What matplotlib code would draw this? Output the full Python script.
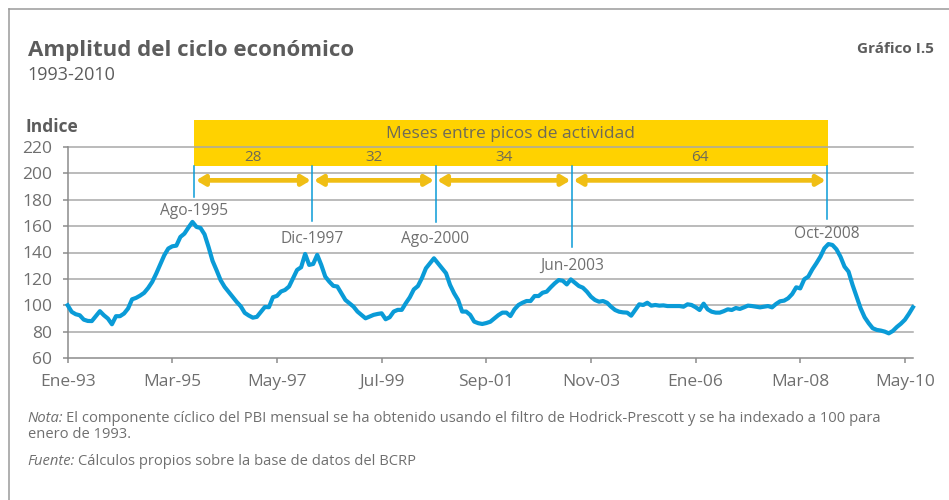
import matplotlib
matplotlib.use('Agg')
import matplotlib.pyplot as plt
from matplotlib.patches import Rectangle, FancyArrowPatch
from matplotlib.lines import Line2D
import numpy as np

plt.rcParams['font.family'] = ['Open Sans', 'DejaVu Sans']

# indice mensual, ene-1993 a jul-2010
indice = [
    100, 95, 93.2, 92.4, 89.1, 88.1, 88, 91.7, 95.5, 92.4,
    89.9, 85.6, 91.7, 91.7, 93.7, 97.5, 104.5, 105.6, 107.3, 109.4,
    113.1, 117.7, 124, 131, 137.9, 143, 144.7, 145.2, 151.8, 154.3,
    158.9, 163.2, 159.4, 158.6, 153.8, 144.2, 133.6, 126.5, 119, 113.9,
    110.1, 106.3, 102.5, 99.2, 94.2, 92.2, 90.6, 91.2, 95, 98.7,
    98.5, 106.1, 107.1, 110.4, 111.6, 114.2, 120.5, 126.8, 128.8, 138.9,
    130.6, 131.3, 138.2, 130.6, 121.7, 117.9, 114.7, 114.2, 109.1, 104,
    101.5, 99, 95.2, 92.7, 90.1, 91.4, 92.7, 93.4, 93.9, 89.4,
    90.9, 95.2, 96.5, 96.5, 101.5, 106, 112, 114.5, 120.5, 128,
    131.8, 135.6, 131.8, 128.1, 124.3, 115.4, 109.1, 104, 95.2, 95.2,
    92.7, 87.6, 86.4, 85.8, 86.5, 87.5, 90, 92.5, 94.4, 94.4,
    91.8, 96.9, 100.2, 101.9, 103.2, 103.2, 107, 107, 109.5, 110.3,
    113.6, 116.6, 119.1, 118.6, 115.8, 119.6, 117.1, 114.6, 113.3, 110.3,
    106.5, 104, 102.7, 103.2, 101.9, 98.9, 96.4, 95.1, 94.6, 94.4,
    92.1, 96.4, 100.7, 100.2, 101.9, 99.7, 100.2, 99.7, 99.9, 99.4,
    99.4, 99.4, 99.4, 98.9, 100.7, 100.2, 98.5, 96.4, 101.2, 96.9,
    95.1, 94.4, 94.4, 95.5, 96.9, 96.4, 97.9, 97.2, 98.4, 99.7,
    99.4, 98.9, 98.4, 98.9, 99.4, 98.4, 101, 103, 103.5, 105.3,
    108.5, 113.6, 112.8, 119.7, 121.7, 127.2, 131.8, 136.8, 143.2, 146.4,
    145.7, 142.4, 136.8, 129.3, 125.5, 115.4, 106.5, 97.7, 90.9, 86.4,
    82.6, 81.3, 80.8, 80, 78.7, 80.5, 83.5, 86, 89, 93.5,
    98.5,
]
meses = np.arange(len(indice))

tick_labels = ['Ene-93', 'Mar-95', 'May-97', 'Jul-99', 'Sep-01',
               'Nov-03', 'Ene-06', 'Mar-08', 'May-10']
tick_pos = np.arange(len(tick_labels)) * 26

picos = ['Ago-1995', 'Dic-1997', 'Ago-2000', 'Jun-2003', 'Oct-2008']
picos_x = [31.5, 60.8, 91.4, 125.3, 188.7]
picos_linea_min = [182, 163.7, 163, 144, 165.5]
picos_texto_y = [171.7, 150, 150, 130, 153.8]
intervalos = ['28', '32', '34', '64']

BLUE = '#0a9bd7'
YELLOW = '#ffd200'
GOLD = '#f0be14'
GRAY = '#6f6f6f'
GRID = '#a8a8a8'

fig = plt.figure(figsize=(9.49, 5.0), dpi=100)
ax = fig.add_axes([0.0713, 0.284, 0.8907, 0.422])

ax.plot(meses, indice, color=BLUE, lw=3.0, solid_joinstyle='round', zorder=4, clip_on=False)
ax.set_xlim(0, 210)
ax.set_ylim(60, 220)
yt = np.arange(60, 221, 20)
ax.set_yticks(yt)
for v in yt[1:]:
    ax.axhline(v, color=GRID, lw=1.1, zorder=0.5, clip_on=False)
ax.set_xticks(tick_pos)
ax.set_xticklabels(tick_labels)
for s in ['top', 'right']:
    ax.spines[s].set_visible(False)
for s in ['left', 'bottom']:
    ax.spines[s].set_color('#8c8c8c')
    ax.spines[s].set_linewidth(1.1)
ax.tick_params(axis='both', colors='#8c8c8c', labelcolor=GRAY, labelsize=12.5,
               length=3.3, width=1.1, direction='out')
ax.tick_params(axis='y', pad=8)
ax.tick_params(axis='x', pad=8)

# banda amarilla
band_lo, band_hi = 205.3, 240.3
ax.add_patch(Rectangle((picos_x[0] - 0.1, band_lo), picos_x[-1] - picos_x[0] + 0.2,
                       band_hi - band_lo, facecolor=YELLOW, edgecolor='none',
                       zorder=0.3, clip_on=False))
ax.text((picos_x[0] + picos_x[-1]) / 2, 230.2, 'Meses entre picos de actividad',
        ha='center', va='center', fontsize=12.5, color='#6e6a58', zorder=5)

for i, lab in enumerate(intervalos):
    x0, x1 = picos_x[i], picos_x[i + 1]
    ax.text((x0 + x1) / 2, 212.4, lab, ha='center', va='center', fontsize=11,
            color='#6e6a58', zorder=5)
    arr = FancyArrowPatch((x0 + 0.4, 194.7), (x1 - 0.4, 194.7),
                          arrowstyle='<|-|>,head_length=5,head_width=3',
                          mutation_scale=1, lw=3.4, color=GOLD,
                          shrinkA=0, shrinkB=0, zorder=3, clip_on=False)
    ax.add_patch(arr)

for x, lo, ty, lab in zip(picos_x, picos_linea_min, picos_texto_y, picos):
    ax.plot([x, x], [lo, band_lo], color=BLUE, lw=1.1, zorder=3, clip_on=False)
    ax.text(x, ty, lab, ha='center', va='center', fontsize=11.2, color=GRAY, zorder=5)

# textos de cabecera
fig.text(27.7 / 949, 1 - 55.7 / 500, 'Amplitud del ciclo económico', fontsize=16,
         fontweight='bold', color='#5c5c5c', ha='left', va='baseline')
fig.text(27.7 / 949, 1 - 80 / 500, '1993-2010', fontsize=13, color='#5c5c5c',
         ha='left', va='baseline')
fig.text(934.3 / 949, 1 - 53.3 / 500, 'Gráfico I.5', fontsize=11, fontweight='bold',
         color='#5c5c5c', ha='right', va='baseline')
fig.text(25.7 / 949, 1 - 131.7 / 500, 'Indice', fontsize=12.5, fontweight='bold',
         color='#5c5c5c', ha='left', va='baseline')

# notas
renderer = fig.canvas.get_renderer()
FS_NOTA = 10.6
X_NOTA = 27.5 / 949


def nota(y, italic, rest):
    t = fig.text(X_NOTA, 1 - y / 500, italic, fontsize=FS_NOTA, style='italic',
                 color=GRAY, ha='left', va='baseline')
    bb = t.get_window_extent(renderer)
    fig.text((bb.x1 + 3) / 949, 1 - y / 500, rest, fontsize=FS_NOTA, color=GRAY,
             ha='left', va='baseline')


nota(421.7, 'Nota:', 'El componente cíclico del PBI mensual se ha obtenido usando el filtro '
     'de Hodrick-Prescott y se ha indexado a 100 para')
fig.text(X_NOTA, 1 - 437.7 / 500, 'enero de 1993.', fontsize=FS_NOTA, color=GRAY,
         ha='left', va='baseline')
nota(465, 'Fuente:', 'Cálculos propios sobre la base de datos del BCRP')

# marco
fig.add_artist(Line2D([9 / 949, 1], [1 - 9.3 / 500, 1 - 9.3 / 500], color='#9a9a9a', lw=1.1))
fig.add_artist(Line2D([9 / 949, 9 / 949], [0, 1 - 9.3 / 500], color='#9a9a9a', lw=1.1))

fig.savefig('out.png', dpi=100)
